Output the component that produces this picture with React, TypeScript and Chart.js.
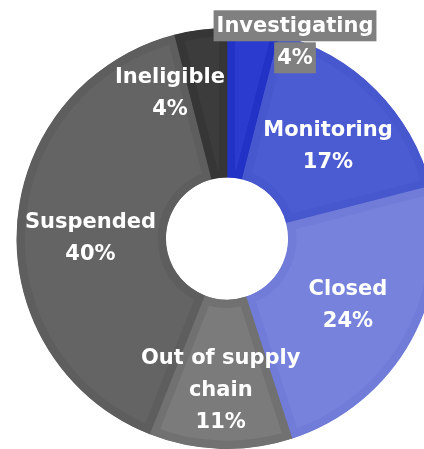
import React, { useEffect, useRef } from "react";
import { Chart, registerables } from "chart.js";

Chart.register(...registerables);

const categories = ["Investigating", "Monitoring", "Closed", "Out of supply chain", "Suspended", "Ineligible"];
const values = [4, 17, 24, 11, 40, 4];
const labelNameLines = [["Investigating"], ["Monitoring"], ["Closed"], ["Out of supply", "chain"], ["Suspended"], ["Ineligible"]];

const fillColors = ["#2b3bcf", "#4b5bd2", "#7682dc", "#7b7b7b", "#646464", "#3c3c3c"];
const borderColors = ["#2232c6", "#4757cd", "#707cd8", "#717171", "#5e5e5e", "#363636"];
const labelOffsets = [[51, -62], [5, 3], [2, 1], [-2, 15], [-1, 8], [-40, -11]];
const labelBoxed = [true, false, false, false, false, false];

const sliceLabels = {
  id: "sliceLabels",
  afterDatasetsDraw(chart: any) {
    const ctx = chart.ctx as CanvasRenderingContext2D;
    const meta = chart.getDatasetMeta(0);
    ctx.save();
    ctx.font = "bold 21px 'DejaVu Sans'";
    ctx.textAlign = "center";
    ctx.textBaseline = "middle";
    meta.data.forEach((arc: any, i: number) => {
      const p = arc.getProps(["x", "y", "startAngle", "endAngle", "innerRadius", "outerRadius"], true);
      const mid = (p.startAngle + p.endAngle) / 2;
      const r = (p.innerRadius + p.outerRadius) / 2;
      const cx = p.x + Math.cos(mid) * r + labelOffsets[i][0];
      const cy = p.y + Math.sin(mid) * r + labelOffsets[i][1];
      const lines = [...labelNameLines[i], `${values[i]}%`];
      const lh = 32;
      lines.forEach((line, j) => {
        const ly = cy + (j - (lines.length - 1) / 2) * lh;
        if (labelBoxed[i]) {
          const w = ctx.measureText(line).width;
          ctx.fillStyle = "#808080";
          ctx.fillRect(cx - w / 2 - 3, ly - 15.5, w + 6, 31);
        }
        ctx.fillStyle = "#ffffff";
        ctx.fillText(line, cx, ly + 1);
      });
    });
    ctx.restore();
  },
};

export default function App() {
  const ref = useRef<HTMLCanvasElement | null>(null);
  useEffect(() => {
    if (!ref.current) return;
    const chart = new Chart(ref.current, {
      type: "doughnut",
      data: {
        labels: categories,
        datasets: [
          {
            data: values,
            backgroundColor: fillColors,
            borderColor: borderColors,
            borderWidth: 8,
            borderAlign: "inner",
            borderJoinStyle: "miter",
          } as any,
        ],
      },
      options: {
        animation: false,
        responsive: false,
        cutout: "29%",
        layout: { padding: { left: 16, top: 28, right: 22, bottom: 0 } },
        plugins: { legend: { display: false }, tooltip: { enabled: false } },
      },
      plugins: [sliceLabels],
    });
    return () => chart.destroy();
  }, []);
  return (
    <div style={{ position: "fixed", left: 0, top: 0, width: 424, height: 449, overflow: "hidden", background: "#fff" }}>
      <canvas ref={ref} width={460} height={449} style={{ position: "absolute", left: 0, top: 0, width: 460, height: 449 }} />
    </div>
  );
}
